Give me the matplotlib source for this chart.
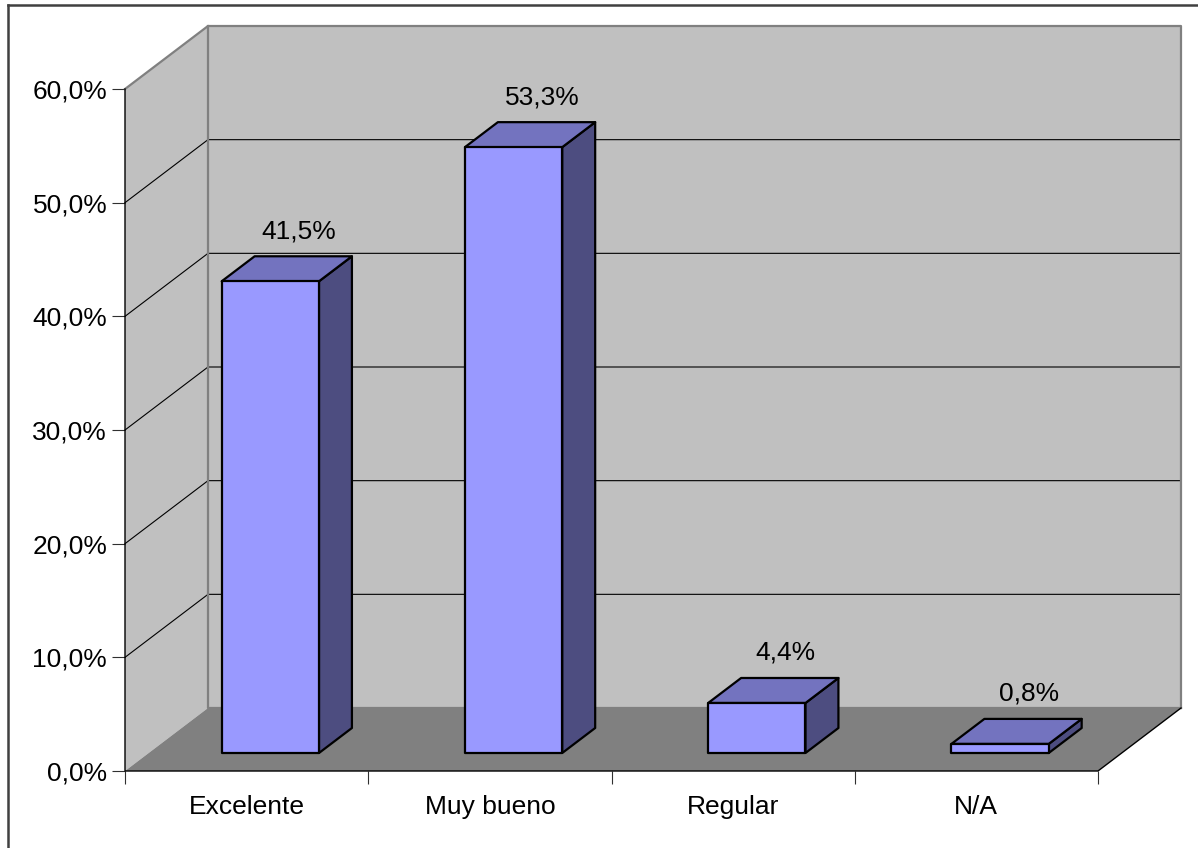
import matplotlib
matplotlib.use("Agg")
import matplotlib.pyplot as plt
from matplotlib.patches import Polygon
from matplotlib.lines import Line2D
from matplotlib.ticker import FixedLocator, FuncFormatter, NullFormatter

plt.rcParams['font.family'] = ['Liberation Sans', 'DejaVu Sans']

categories = ["Excelente", "Muy bueno", "Regular", "N/A"]
values = [41.5, 53.3, 4.4, 0.8]
y_ticks = [0, 10, 20, 30, 40, 50, 60]

W, H, DPI = 1198, 848, 100
fig = plt.figure(figsize=(W / DPI, H / DPI), dpi=DPI)
fig.patch.set_facecolor("white")

# front plane of the 3D box, in figure pixels
left_px, right_px, bottom_px, top_px = 125, 1098, 771, 89
ax = fig.add_axes([left_px / W, (H - bottom_px) / H,
                   (right_px - left_px) / W, (bottom_px - top_px) / H])
n = len(categories)
ymax = 60
ax.set_xlim(0, n)
ax.set_ylim(0, ymax)
ax.set_facecolor("none")
for s in ax.spines.values():
    s.set_visible(False)

# depth projection: full depth shifts right and up
px_per_x = (right_px - left_px) / n
px_per_y = (bottom_px - top_px) / ymax
DX = 83 / px_per_x
DY = 63 / px_per_y


def P(x, y, d):
    return (x + d * DX, y + d * DY)


wall_c = "#C0C0C0"
floor_c = "#808080"
edge_c = "#808080"

# walls and floor
ax.add_patch(Polygon([P(0, 0, 1), P(n, 0, 1), P(n, ymax, 1), P(0, ymax, 1)],
                     closed=True, fc=wall_c, ec="none", clip_on=False, zorder=1))
ax.add_patch(Polygon([P(0, 0, 0), P(0, 0, 1), P(0, ymax, 1), P(0, ymax, 0)],
                     closed=True, fc=wall_c, ec="none", clip_on=False, zorder=1))
ax.add_patch(Polygon([P(0, 0, 0), P(n, 0, 0), P(n, 0, 1), P(0, 0, 1)],
                     closed=True, fc=floor_c, ec="none", clip_on=False, zorder=1))

# gridlines on back and side walls
for t in y_ticks[1:-1]:
    xs, ys = zip(P(0, t, 0), P(0, t, 1), P(n, t, 1))
    ax.add_line(Line2D(xs, ys, color="black", lw=0.8, clip_on=False, zorder=2))

# wall outlines
for seg in [(P(0, ymax, 0), P(0, ymax, 1), P(n, ymax, 1), P(n, 0, 1)),
            (P(0, ymax, 1), P(0, 0, 1), P(n, 0, 1))]:
    xs, ys = zip(*seg)
    ax.add_line(Line2D(xs, ys, color=edge_c, lw=1.6, clip_on=False, zorder=2))

# axis lines (front edges)
for seg in [(P(0, ymax, 0), P(0, 0, 0), P(n, 0, 0), P(n, 0, 1))]:
    xs, ys = zip(*seg)
    ax.add_line(Line2D(xs, ys, color="black", lw=1.0, clip_on=False, zorder=3))

# bars
bar_w = 0.4
d0, d1 = 18 / 63, 43 / 63
front_c, top_c, side_c = "#9999FF", "#7373BF", "#4D4D80"
for i, v in enumerate(values):
    x0 = i + 0.5 - bar_w / 2
    x1 = i + 0.5 + bar_w / 2
    kw = dict(closed=True, ec="black", lw=1.6, joinstyle="round",
              clip_on=False, zorder=4)
    ax.add_patch(Polygon([P(x1, 0, d0), P(x1, v, d0), P(x1, v, d1), P(x1, 0, d1)],
                         fc=side_c, **kw))
    ax.add_patch(Polygon([P(x0, v, d0), P(x1, v, d0), P(x1, v, d1), P(x0, v, d1)],
                         fc=top_c, **kw))
    ax.add_patch(Polygon([P(x0, 0, d0), P(x1, 0, d0), P(x1, v, d0), P(x0, v, d0)],
                         fc=front_c, **kw))
    lx, ly = P(i + 0.5, v, d1)
    ax.annotate(f"{v:.1f}%".replace(".", ","), (lx, ly),
                xytext=(-3, 18), textcoords="offset points",
                ha="center", va="center", fontsize=19, color="black",
                zorder=5, annotation_clip=False)

# ticks
ax.yaxis.set_major_locator(FixedLocator(y_ticks))
ax.yaxis.set_major_formatter(FuncFormatter(lambda v, p: f"{v:.1f}%".replace(".", ",")))
ax.tick_params(axis="y", direction="out", length=9.4, width=0.8, color="#303030",
               pad=3.4, labelsize=19, labelcolor="black")
ax.xaxis.set_major_locator(FixedLocator(list(range(n + 1))))
ax.xaxis.set_major_formatter(NullFormatter())
ax.xaxis.set_minor_locator(FixedLocator([i + 0.5 for i in range(n)]))
ax.xaxis.set_minor_formatter(FuncFormatter(lambda v, p: categories[int(v)]))
ax.tick_params(axis="x", which="major", direction="out", length=9.4, width=0.8,
               color="#303030")
ax.tick_params(axis="x", which="minor", length=0, pad=17, labelsize=19,
               labelcolor="black")

# chart area frame
fig.add_artist(Line2D([8 / W, 8 / W], [0, 1 - 5 / H], transform=fig.transFigure,
                      color="#404040", lw=1.8))
fig.add_artist(Line2D([8 / W, 1], [1 - 5 / H, 1 - 5 / H], transform=fig.transFigure,
                      color="#404040", lw=1.8))

fig.savefig("out.png", dpi=DPI)
